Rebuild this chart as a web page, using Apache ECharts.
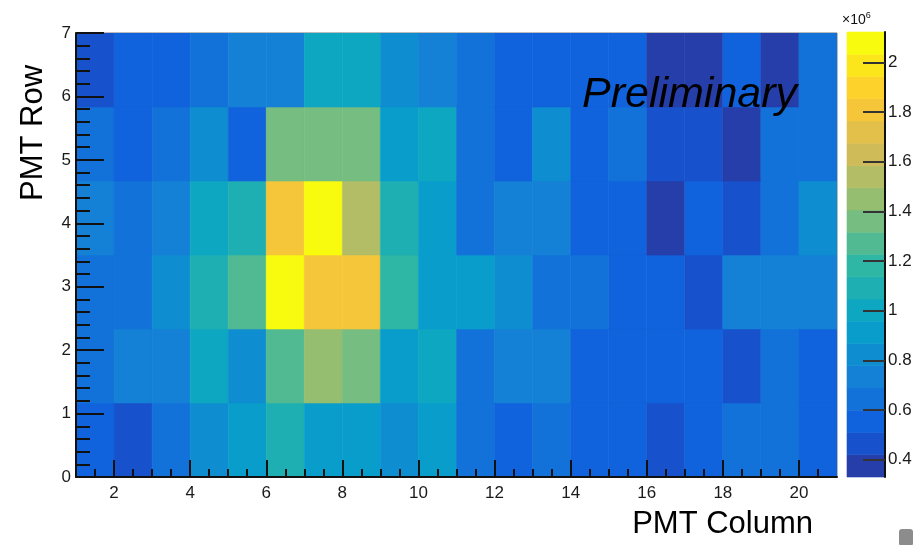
<!DOCTYPE html>
<html>
<head>
<meta charset="utf-8">
<script src="https://cdn.jsdelivr.net/npm/echarts@6/dist/echarts.min.js"></script>
<style>
html,body{margin:0;padding:0;background:#fff;}
#chart{width:919px;height:545px;}
</style>
</head>
<body>
<div id="chart"></div>
<script>
// ---- histogram binning (data units) ----
const colEdges = [1,2,3,4,5,6,7,8,9,10,11,12,13,14,15,16,17,18,19,20,21];
const rowEdges = [0, 7/6, 14/6, 3.5, 28/6, 35/6, 7];

// ---- cell values (x10^6), columns 1..20 ----
const row1 = [0.56,0.46,0.64,0.83,0.92,1.09,0.91,0.90,0.82,0.92, 0.65,0.55,0.64,0.56,0.56,0.46,0.55,0.65,0.64,0.56];
const row2 = [0.65,0.73,0.74,1.00,0.82,1.27,1.46,1.37,0.91,1.01, 0.64,0.74,0.73,0.56,0.55,0.56,0.55,0.47,0.64,0.56];
const row3 = [0.64,0.65,0.82,1.09,1.28,2.09,1.82,1.80,1.19,0.92, 0.90,0.83,0.65,0.64,0.56,0.55,0.46,0.74,0.73,0.75];
const row4 = [0.74,0.65,0.73,1.00,1.10,1.80,2.122,1.55,1.08,0.91, 0.64,0.73,0.74,0.56,0.55,0.33,0.57,0.47,0.65,0.83];
const row5 = [0.65,0.55,0.66,0.84,0.57,1.37,1.36,1.35,0.92,1.02, 0.64,0.56,0.82,0.55,0.65,0.47,0.46,0.34,0.64,0.66];
const row6 = [0.47,0.56,0.55,0.64,0.73,0.74,1.01,0.99,0.83,0.72, 0.63,0.56,0.55,0.57,0.56,0.36,0.37,0.58,0.38,0.66];
const rows = [row1,row2,row3,row4,row5,row6];

// ---- tick labels ----
const xTicks = [2,4,6,8,10,12,14,16,18,20];
const yTicks = [0,1,2,3,4,5,6,7];
const zTicks = [0.4,0.6,0.8,1,1.2,1.4,1.6,1.8,2];
const nContours = 20;

// ---- ROOT kBird palette stops (style) ----
const birdStops = [0.0,0.125,0.25,0.375,0.5,0.625,0.75,0.875,1.0];
const birdR = [0.2082,0.0592,0.0780,0.0232,0.1802,0.5301,0.8186,0.9956,0.9764];
const birdG = [0.1664,0.3599,0.5041,0.6419,0.7178,0.7492,0.7328,0.7862,0.9832];
const birdB = [0.5293,0.8684,0.8385,0.7914,0.6425,0.4662,0.3499,0.1968,0.0539];
function bird(f){
  let k = 0;
  while (k < birdStops.length-2 && f > birdStops[k+1]) k++;
  const t = (f - birdStops[k])/(birdStops[k+1]-birdStops[k]);
  const c = a => Math.round(255*(a[k] + (a[k+1]-a[k])*t));
  return 'rgb(' + c(birdR) + ',' + c(birdG) + ',' + c(birdB) + ')';
}

// build data
const cells = [];
rows.forEach((r, ri) => r.forEach((v, ci) => cells.push([ci+1, ri+1, v])));
const allVals = rows.flat();
const zMin = Math.min(...allVals), zMax = Math.max(...allVals);
const step = (zMax - zMin)/nContours;
const pieces = [];
const bands = [];
for (let i = 0; i < nContours; i++) {
  const lo = zMin + i*step, hi = zMin + (i+1)*step;
  const p = {gte: lo, color: bird((i+0.99)/nContours)};
  if (i === nContours-1) p.lte = zMax + 1e-9; else p.lt = hi;
  pieces.push(p);
  bands.push([lo, hi, (lo+hi)/2]);
}
const minorX = [];
for (let t = 1.5; t < 21; t += 0.5) if (t % 2 !== 0) minorX.push(t);

const FONT = '"Liberation Sans", Arial, Helvetica, sans-serif';
const chart = echarts.init(document.getElementById('chart'), null, {renderer:'canvas'});

chart.setOption({
  animation: false,
  backgroundColor: '#fff',
  grid: [
    {left: 76, top: 33, width: 761, height: 444, show: true, borderColor: '#777', borderWidth: 1, containLabel: false, z: 0},
    {left: 847, top: 32, width: 38, height: 445, show: false, containLabel: false}
  ],
  xAxis: [
    {type:'value', gridIndex:0, min:1, max:21, position:'bottom', z:10,
     axisLine:{show:true, onZero:false, lineStyle:{color:'#111', width:2}},
     axisTick:{show:true, inside:true, length:17, customValues:xTicks, lineStyle:{color:'#111', width:2}},
     axisLabel:{show:true, customValues:xTicks, margin:8, fontSize:17, color:'#1a1a1a', fontFamily:FONT},
     splitLine:{show:false}},
    {type:'value', gridIndex:0, min:1, max:21, position:'bottom', z:10,
     axisLine:{show:false},
     axisTick:{show:true, inside:true, length:8, customValues:minorX, lineStyle:{color:'#111', width:2}},
     axisLabel:{show:false}, splitLine:{show:false}},
    {type:'value', gridIndex:1, min:0, max:1, show:false}
  ],
  yAxis: [
    {type:'value', gridIndex:0, min:0, max:7, interval:1, position:'left', z:10,
     axisLine:{show:true, onZero:false, lineStyle:{color:'#111', width:2}},
     axisTick:{show:true, inside:true, length:28, lineStyle:{color:'#111', width:2}},
     minorTick:{show:true, splitNumber:5, length:14, lineStyle:{color:'#111', width:2}},
     axisLabel:{show:true, margin:5, fontSize:17, color:'#1a1a1a', fontFamily:FONT},
     splitLine:{show:false}, minorSplitLine:{show:false}},
    {type:'value', gridIndex:1, min:zMin, max:zMax, position:'right', z:10,
     axisLine:{show:true, onZero:false, lineStyle:{color:'#111', width:2}},
     axisTick:{show:true, inside:true, length:22, customValues:zTicks, lineStyle:{color:'#333', width:2}},
     axisLabel:{show:true, customValues:zTicks, margin:3, fontSize:17, color:'#1a1a1a', fontFamily:FONT},
     splitLine:{show:false}}
  ],
  visualMap: {
    type:'piecewise', show:false, dimension:2, seriesIndex:[0,1], pieces: pieces
  },
  series: [
    {
      type:'custom', xAxisIndex:0, yAxisIndex:0, data: cells, encode:{x:0, y:1},
      clip: true, z: 1,
      renderItem: function(params, api){
        const c = api.value(0), r = api.value(1);
        const p0 = api.coord([colEdges[c-1], rowEdges[r-1]]);
        const p1 = api.coord([colEdges[c], rowEdges[r]]);
        const col = api.visual('color');
        return {type:'rect',
          shape:{x:p0[0], y:p1[1], width:p1[0]-p0[0], height:p0[1]-p1[1]},
          style:{fill:col, stroke:col, lineWidth:0.6}};
      }
    },
    {
      type:'custom', xAxisIndex:2, yAxisIndex:1, data: bands, encode:{y:[0,1]},
      z: 1,
      renderItem: function(params, api){
        const p0 = api.coord([0, api.value(0)]);
        const p1 = api.coord([1, api.value(1)]);
        const col = api.visual('color');
        return {type:'rect',
          shape:{x:p0[0], y:p1[1], width:p1[0]-p0[0], height:p0[1]-p1[1]},
          style:{fill:col, stroke:col, lineWidth:0.6}};
      }
    }
  ],
  graphic: [
    {type:'text', x:33, y:133, rotation:Math.PI/2, z:10,
     style:{text:'PMT Row', fontSize:31, fontFamily:FONT, fill:'#000', align:'center', verticalAlign:'middle'}},
    {type:'text', x:813, y:524, z:10,
     style:{text:'PMT Column', fontSize:31, fontFamily:FONT, fill:'#000', align:'right', verticalAlign:'middle'}},
    {type:'text', x:582, y:95, z:10,
     style:{text:'Preliminary', fontSize:43, fontStyle:'italic', fontFamily:FONT, fill:'#000', align:'left', verticalAlign:'middle'}},
    {type:'text', x:842, y:20, z:10,
     style:{text:'{a|×10}{b|6}', fontFamily:FONT, fill:'#111', align:'left', verticalAlign:'middle',
       rich:{a:{fontSize:14, fontFamily:FONT, fill:'#111'}, b:{fontSize:9, fontFamily:FONT, fill:'#111', verticalAlign:'top', padding:[0,0,8,0]}}}},
    {type:'rect', shape:{x:899, y:529, width:14, height:17, r:3}, style:{fill:'#8c8c8c'}, z:10}
  ]
});
</script>
</body>
</html>
